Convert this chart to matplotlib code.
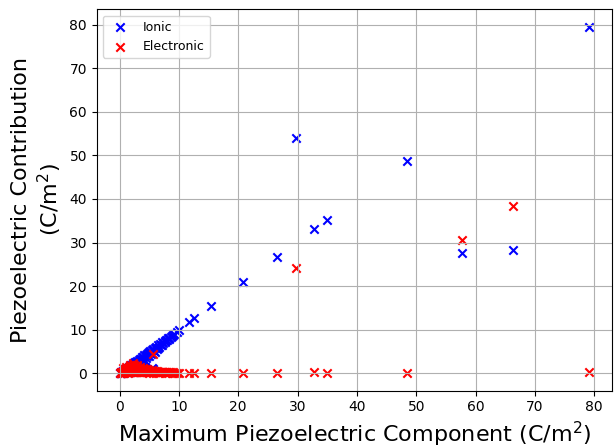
import numpy as np
import matplotlib.pyplot as plt

# maximum piezoelectric component and its ionic / electronic parts (C/m^2)
max_comp = [0.1, 0.2, 0.3, 0.3, 0.4, 0.5, 0.5, 0.6, 0.7, 0.8, 0.8, 0.9, 1.0, 1.0,
            1.1, 1.2, 1.2, 1.3, 1.4, 1.4, 1.5, 1.6, 1.6, 1.7, 1.8, 1.8, 1.9, 2.0,
            2.0, 2.1, 2.2, 2.2, 2.3, 2.4, 2.5, 2.5, 2.6, 2.7, 2.8, 2.9, 3.0, 3.0,
            3.1, 3.2, 3.3, 3.4, 3.5, 3.6, 3.7, 3.8, 3.9, 4.0, 4.1, 4.2, 4.3, 4.4,
            4.5, 4.6, 4.7, 4.8, 4.9, 5.0, 5.2, 5.3, 5.4, 5.5, 5.6, 5.7, 5.9, 6.0,
            6.2, 6.3, 6.5, 6.6, 6.8, 7.0, 7.2, 7.4, 7.6, 7.8, 8.0, 8.2, 8.4, 8.6,
            8.8, 9.0, 9.2, 9.6, 10.1,
            0.6, 1.1, 1.7, 2.3, 2.9, 3.4, 4.0, 4.6, 5.1, 5.8, 6.4, 7.1, 7.7, 8.3,
            11.7, 12.6, 15.4, 20.8, 26.5, 29.7, 32.7, 34.9, 48.5, 57.7, 66.3, 79.1]
ionic = [0.05, 0.1, 0.1, 0.25, 0.2, 0.4, 0.1, 0.5, 0.3, 0.7, 0.2, 0.6, 0.9, 0.3,
         0.5, 1.1, 0.4, 0.8, 1.3, 0.2, 1.0, 1.5, 0.4, 1.2, 1.7, 0.3, 0.9, 1.9,
         0.5, 1.5, 2.1, 0.6, 1.1, 2.3, 1.8, 0.4, 2.5, 1.2, 2.7, 2.2, 2.9, 0.6,
         1.8, 3.1, 2.5, 3.2, 1.2, 3.4, 2.8, 3.7, 0.8, 3.8, 3.1, 4.1, 1.5, 4.2,
         3.6, 4.5, 0.9, 4.7, 4.0, 4.9, 5.1, 4.4, 1.3, 5.4, 1.1, 5.6, 5.0, 5.9,
         6.0, 5.5, 6.4, 6.1, 6.7, 6.6, 7.1, 6.9, 7.4, 7.7, 7.6, 8.1, 8.0, 8.4,
         8.6, 8.7, 9.1, 9.4, 10.0,
         0.3, 0.6, 1.0, 1.6, 2.0, 2.6, 3.3, 3.9, 4.6, 5.2, 5.9, 6.6, 7.3, 7.9,
         11.8, 12.8, 15.4, 21.0, 26.7, 53.9, 33.0, 35.2, 48.6, 27.5, 28.2, 79.5]
electronic = [0.05, 0.1, 0.2, 0.05, 0.3, 0.1, 0.4, 0.2, 0.5, 0.1, 0.7, 0.4, 0.3, 0.9,
              0.8, 0.2, 1.0, 0.7, 0.1, 1.3, 0.6, 0.3, 1.4, 0.6, 0.2, 1.6, 1.2, 0.3,
              1.7, 0.8, 0.2, 1.8, 1.4, 0.3, 0.9, 2.0, 0.2, 1.6, 0.3, 0.9, 0.2, 1.9,
              1.3, 0.2, 0.9, 0.3, 1.5, 0.3, 0.8, 0.2, 1.3, 0.3, 0.7, 0.2, 1.1, 0.3,
              0.6, 0.2, 0.9, 0.2, 0.7, 0.1, 0.2, 0.6, 0.8, 0.2, 4.5, 0.1, 0.5, 0.2,
              0.3, 0.5, 0.1, 0.4, 0.2, 0.3, 0.2, 0.3, 0.2, 0.1, 0.3, 0.1, 0.2, 0.2,
              0.1, 0.2, 0.1, 0.1, 0.0,
              1.2, 1.5, 1.9, 2.3, 1.6, 1.1, 1.0, 0.8, 0.5, 0.6, 0.4, 0.3, 0.4, 0.3,
              0.0, 0.0, 0.0, 0.0, 0.0, 24.2, 0.3, 0.0, 0.0, 30.5, 38.3, 0.2]

fig = plt.figure(figsize=(6.16, 4.48), dpi=100)
ax = fig.add_axes([0.157, 0.128, 0.837, 0.851])

ax.scatter(max_comp, ionic, marker='x', color='blue', label='Ionic')
ax.scatter(max_comp, electronic, marker='x', color='red', label='Electronic')

ax.set_xlabel('Maximum Piezoelectric Component (C/m$^2$)', fontsize=16)
ax.set_ylabel('Piezoelectric Contribution\n(C/m$^2$)', fontsize=16)
ax.set_xticks(np.arange(0, 81, 10))
ax.set_yticks(np.arange(0, 81, 10))
ax.grid(True)
ax.legend(loc='upper left', fontsize=9)

fig.savefig('out.png')
